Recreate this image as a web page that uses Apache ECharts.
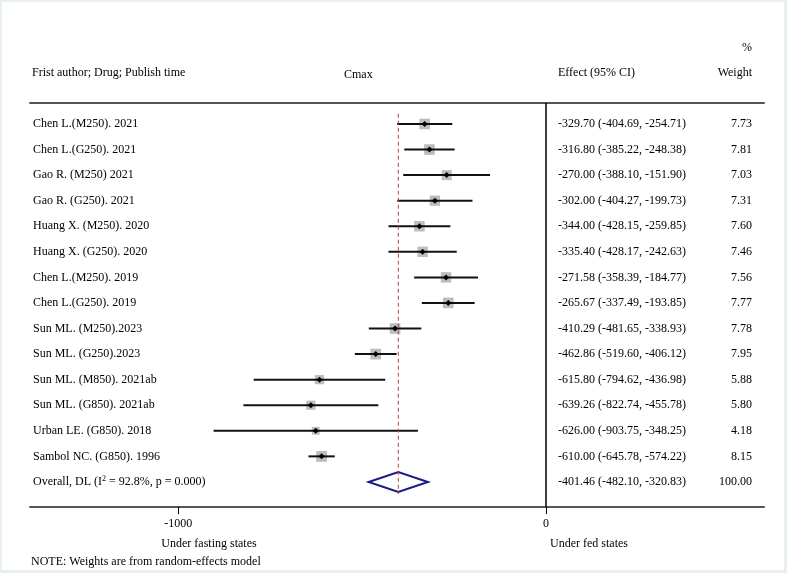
<!DOCTYPE html>
<html><head><meta charset="utf-8">
<script src="https://cdn.jsdelivr.net/npm/echarts@6/dist/echarts.min.js"></script>
<style>
html,body{margin:0;padding:0;background:#e8f0f4;overflow:hidden;}
#bg{position:absolute;left:2px;top:2px;width:782px;height:568px;background:#fff;}
#chart{position:absolute;left:0;top:0;width:787px;height:573px;}
</style></head><body>
<div id="bg"></div><div id="chart"></div>
<script>
const studies = ["Chen L.(M250). 2021","Chen L.(G250). 2021","Gao R. (M250) 2021","Gao R. (G250). 2021","Huang X. (M250). 2020","Huang X. (G250). 2020","Chen L.(M250). 2019","Chen L.(G250). 2019","Sun ML. (M250).2023","Sun ML. (G250).2023","Sun ML. (M850). 2021ab","Sun ML. (G850). 2021ab","Urban LE. (G850). 2018","Sambol NC. (G850). 1996"];
const est = [-329.70,-316.80,-270.00,-302.00,-344.00,-335.40,-271.58,-265.67,-410.29,-462.86,-615.80,-639.26,-626.00,-610.00];
const lo = [-404.69,-385.22,-388.10,-404.27,-428.15,-428.17,-358.39,-337.49,-481.65,-519.60,-794.62,-822.74,-903.75,-645.78];
const hi = [-254.71,-248.38,-151.90,-199.73,-259.85,-242.63,-184.77,-193.85,-338.93,-406.12,-436.98,-455.78,-348.25,-574.22];
const weights = [7.73,7.81,7.03,7.31,7.60,7.46,7.56,7.77,7.78,7.95,5.88,5.80,4.18,8.15];
const overallLabel = "Overall, DL (I{sup|2} = 92.8%, p = 0.000)";
const overallEst = -401.46;
const overallLo = -482.10;
const overallHi = -320.83;
const overallWeight = 100.00;
const xTicks = [-1000, 0];

const FONT = '"Liberation Serif","Times New Roman",serif';
const FS = 12;
const nRows = studies.length + 1;
const fmt = v => v.toFixed(2);
const effText = (e,l,h) => fmt(e) + " (" + fmt(l) + ", " + fmt(h) + ")";

const studyData = studies.map((s,i)=>[est[i], lo[i], hi[i], weights[i], i+1]);
const overallData = [[overallEst, overallLo, overallHi, overallWeight, nRows]];

function txt(x, y, text, align, extra) {
  return Object.assign({type:'text', x:x, y:y, style:{text:text, fontFamily:FONT, fontSize:FS, fill:'#000', align:align||'left', verticalAlign:'middle'}}, extra||{});
}

function columns(cs, api, row, label, e, l, h, w, rich) {
  const yy = api.coord([0, row])[1];
  const zx = api.coord([0, row])[0];
  const lab = txt(cs.x + 3, yy, label, 'left');
  if (rich) lab.style.rich = rich;
  return [
    lab,
    txt(zx + 12, yy, effText(e,l,h), 'left'),
    txt(cs.x + cs.width - 12, yy, fmt(w), 'right')
  ];
}

function renderStudy(params, api) {
  const i = params.dataIndex;
  const cs = params.coordSys;
  const row = api.value(4);
  const c = api.coord([api.value(0), row]);
  const l = api.coord([api.value(1), row]);
  const h = api.coord([api.value(2), row]);
  const s = 3.8 * Math.sqrt(api.value(3));
  const d = 3;
  return {type:'group', children:[
    {type:'rect', shape:{x:c[0]-s/2, y:c[1]-s/2, width:s, height:s}, style:{fill:'#bdbdbd'}},
    {type:'line', shape:{x1:l[0], y1:l[1], x2:h[0], y2:h[1]}, style:{stroke:'#111', lineWidth:2}},
    {type:'polygon', shape:{points:[[c[0]-d,c[1]],[c[0],c[1]-d],[c[0]+d,c[1]],[c[0],c[1]+d]]}, style:{fill:'#000'}}
  ].concat(columns(cs, api, row, studies[i], api.value(0), api.value(1), api.value(2), api.value(3)))};
}

function renderOverall(params, api) {
  const cs = params.coordSys;
  const row = api.value(4);
  const c = api.coord([api.value(0), row]);
  const l = api.coord([api.value(1), row]);
  const h = api.coord([api.value(2), row]);
  const dh = 10;
  return {type:'group', children:[
    {type:'polygon', shape:{points:[[l[0],l[1]],[c[0],c[1]-dh],[h[0],h[1]],[c[0],c[1]+dh]]}, style:{fill:'none', stroke:'#1a1a80', lineWidth:2}}
  ].concat(columns(cs, api, row, overallLabel, api.value(0), api.value(1), api.value(2), api.value(3),
    {sup:{fontSize:8, fontFamily:FONT, fill:'#000', verticalAlign:'top', padding:[0,0,6,0]}}))};
}

const chart = echarts.init(document.getElementById('chart'), null, {renderer:'canvas'});
const axisLineStyle = {color:'#555', width:2};
chart.setOption({
  animation:false,
  backgroundColor:'transparent',
  grid:{left:30, right:23, top:103, bottom:66},
  xAxis:[
    {type:'value', min:-1403, max:593, position:'bottom',
     axisLine:{show:true, onZero:false, lineStyle:axisLineStyle},
     axisTick:{show:true, customValues:xTicks, length:7, lineStyle:{color:'#000', width:1}},
     axisLabel:{customValues:xTicks, formatter:v => String(v), fontFamily:FONT, fontSize:FS, color:'#000', margin:11},
     splitLine:{show:false}},
    {type:'value', min:-1403, max:593, position:'top',
     axisLine:{show:true, onZero:false, lineStyle:axisLineStyle},
     axisTick:{show:false}, axisLabel:{show:false}, splitLine:{show:false}}
  ],
  yAxis:{type:'value', inverse:true, min:0.18, max:nRows + 0.98, show:false, splitLine:{show:false}},
  graphic:[
    txt(32, 73, "Frist author; Drug; Publish time", 'left'),
    txt(344, 75, "Cmax", 'left'),
    txt(558, 73, "Effect (95% CI)", 'left'),
    txt(752, 73, "Weight", 'right'),
    txt(752, 48, "%", 'right'),
    txt(209, 544, "Under fasting states", 'center'),
    txt(589, 544, "Under fed states", 'center'),
    txt(31, 562, "NOTE: Weights are from random-effects model", 'left')
  ],
  series:[
    {type:'line', xAxisIndex:0, symbol:'none', silent:true,
     data:[[overallEst, 0.6],[overallEst, nRows + 0.47]],
     lineStyle:{color:'#b5403f', width:1, type:[4,3]},
     markLine:{silent:true, symbol:['none','none'], label:{show:false},
       lineStyle:{color:'#000', width:1.5, type:'solid'}, data:[{xAxis:0}]}},
    {type:'custom', xAxisIndex:0, renderItem:renderStudy, data:studyData, clip:false, silent:true},
    {type:'custom', xAxisIndex:0, renderItem:renderOverall, data:overallData, clip:false, silent:true}
  ]
});
</script></body></html>
